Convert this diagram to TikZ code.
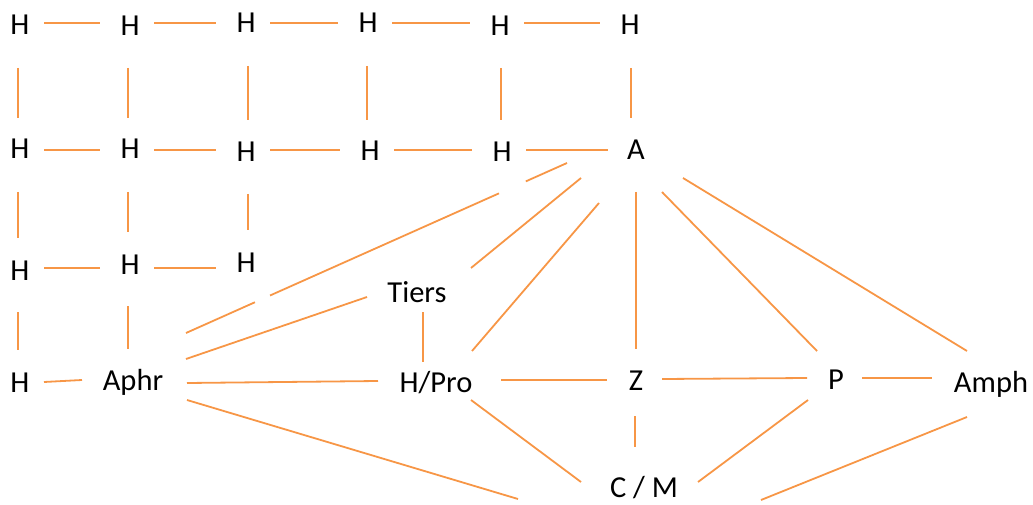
\documentclass[tikz,border=0pt]{standalone}
\usepackage{fontspec}
\setmainfont{Carlito}
\definecolor{linkorange}{RGB}{247,150,70}
\begin{document}
\begin{tikzpicture}[x=1pt,y=-1pt,
  lbl/.style={inner sep=0pt,anchor=base,font=\fontsize{30.5}{36}\selectfont},
  link/.style={draw=linkorange,line width=1.8pt}]
\useasboundingbox (0,0) rectangle (1033,505);
% row 1
\node[lbl] (h11) at (20,35) {H};
\node[lbl] (h12) at (130,36) {H};
\node[lbl] (h13) at (246,33) {H};
\node[lbl] (h14) at (368,33) {H};
\node[lbl] (h15) at (500,36) {H};
\node[lbl] (h16) at (630,35) {H};
% row 2
\node[lbl] (h21) at (20,159) {H};
\node[lbl] (h22) at (130,159) {H};
\node[lbl] (h23) at (246,162) {H};
\node[lbl] (h24) at (370,161) {H};
\node[lbl] (h25) at (502,162) {H};
\node[lbl] (A) at (636,160) {A};
% row 3
\node[lbl] (h31) at (20,280) {H};
\node[lbl] (h32) at (130,274) {H};
\node[lbl] (h33) at (246,272) {H};
% lower
\node[lbl] (h41) at (20,392) {H};
\node[lbl] (Aphr) at (133,390) {Aphr};
\node[lbl] (Tiers) at (417,302) {Tiers};
\node[lbl] (HPro) at (436,392) {H/Pro};
\node[lbl] (Z) at (636,390) {Z};
\node[lbl] (P) at (836,389) {P};
\node[lbl] (Amph) at (991,392) {Amph};
\node[lbl] (CM) at (644,497) {C / M};
% row 1 horizontals
\draw[link] ([shift={(24,-12)}]h11.base) -- ([shift={(-30,-13)}]h12.base);
\draw[link] ([shift={(24,-13)}]h12.base) -- ([shift={(-30,-10)}]h13.base);
\draw[link] ([shift={(24,-10)}]h13.base) -- ([shift={(-30,-10)}]h14.base);
\draw[link] ([shift={(24,-10)}]h14.base) -- ([shift={(-30,-13)}]h15.base);
\draw[link] ([shift={(24,-13)}]h15.base) -- ([shift={(-30,-12)}]h16.base);
% row 1-2 verticals
\draw[link] ([shift={(-2,33)}]h11.base) -- ([shift={(-2,-41)}]h21.base);
\draw[link] ([shift={(-2,32)}]h12.base) -- ([shift={(-2,-41)}]h22.base);
\draw[link] ([shift={(2,33)}]h13.base) -- ([shift={(2,-42)}]h23.base);
\draw[link] ([shift={(-1,33)}]h14.base) -- ([shift={(-3,-41)}]h24.base);
\draw[link] ([shift={(1,32)}]h15.base) -- ([shift={(-1,-42)}]h25.base);
\draw[link] ([shift={(1,33)}]h16.base) -- ([shift={(-5,-42)}]A.base);
% row 2 horizontals
\draw[link] ([shift={(24,-9)}]h21.base) -- ([shift={(-30,-9)}]h22.base);
\draw[link] ([shift={(24,-9)}]h22.base) -- ([shift={(-30,-12)}]h23.base);
\draw[link] ([shift={(24,-12)}]h23.base) -- ([shift={(-30,-11)}]h24.base);
\draw[link] ([shift={(24,-11)}]h24.base) -- ([shift={(-30,-12)}]h25.base);
\draw[link] ([shift={(24,-12)}]h25.base) -- ([shift={(-28,-10)}]A.base);
% row 2-3 verticals
\draw[link] ([shift={(-2,33)}]h21.base) -- ([shift={(-2,-42)}]h31.base);
\draw[link] ([shift={(-2,33)}]h22.base) -- ([shift={(-2,-42)}]h32.base);
\draw[link] ([shift={(2,32)}]h23.base) -- ([shift={(2,-42)}]h33.base);
% row 3 horizontals
\draw[link] ([shift={(24,-12)}]h31.base) -- ([shift={(-30,-6)}]h32.base);
\draw[link] ([shift={(24,-6)}]h32.base) -- ([shift={(-30,-4)}]h33.base);
% row 3-4 verticals
\draw[link] ([shift={(-2,32)}]h31.base) -- ([shift={(-2,-42)}]h41.base);
\draw[link] ([shift={(-2,32)}]h32.base) -- ([shift={(-5,-41)}]Aphr.base);
\draw[link] ([shift={(24,-10)}]h41.base) -- ([shift={(-51,-10)}]Aphr.base);
% network
\draw[link,dash pattern=on 75.5pt off 16.5pt on 250.7pt off 29.4pt on 200pt]
  ([shift={(53,-57)}]Aphr.base) -- ([shift={(-69,3)}]A.base);
\draw[link] ([shift={(53,-31)}]Aphr.base) -- ([shift={(-50,-5)}]Tiers.base);
\draw[link] ([shift={(-55,18)}]A.base) -- ([shift={(54,-34)}]Tiers.base);
\draw[link] ([shift={(-37,43)}]A.base) -- ([shift={(36,-41)}]HPro.base);
\draw[link] ([shift={(6,10)}]Tiers.base) -- ([shift={(-13,-30)}]HPro.base);
\draw[link] ([shift={(0,32)}]A.base) -- ([shift={(0,-41)}]Z.base);
\draw[link] ([shift={(26,32)}]A.base) -- ([shift={(-19,-38)}]P.base);
\draw[link] ([shift={(47,18)}]A.base) -- ([shift={(-24,-41)}]Amph.base);
\draw[link] ([shift={(54,-7)}]Aphr.base) -- ([shift={(-58,-11)}]HPro.base);
\draw[link] ([shift={(54,10)}]Aphr.base) -- ([shift={(-126,2)}]CM.base);
\draw[link] ([shift={(65,-12)}]HPro.base) -- ([shift={(-29,-10)}]Z.base);
\draw[link] ([shift={(35,8)}]HPro.base) -- ([shift={(-63,-15)}]CM.base);
\draw[link] ([shift={(26,-11)}]Z.base) -- ([shift={(-29,-11)}]P.base);
\draw[link] ([shift={(-1,26)}]Z.base) -- ([shift={(-9,-50)}]CM.base);
\draw[link] ([shift={(26,-11)}]P.base) -- ([shift={(-59,-14)}]Amph.base);
\draw[link] ([shift={(-28,11)}]P.base) -- ([shift={(54,-15)}]CM.base);
\draw[link] ([shift={(-24,25)}]Amph.base) -- ([shift={(117,3)}]CM.base);
\end{tikzpicture}
\end{document}
